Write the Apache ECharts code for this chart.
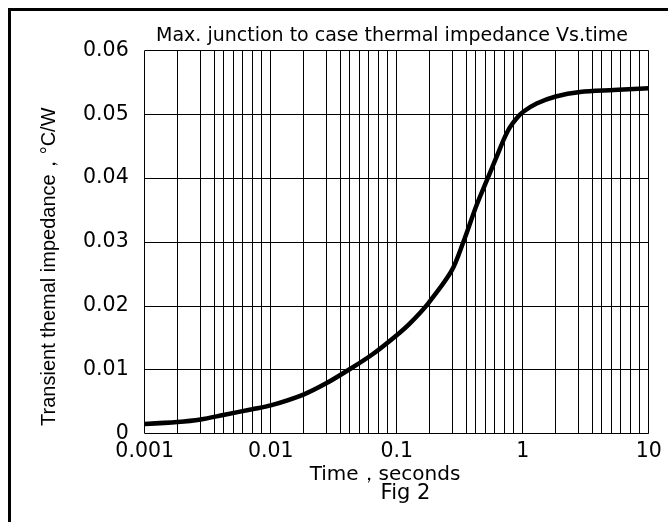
<!DOCTYPE html>
<html>
<head>
<meta charset="utf-8">
<script src="https://cdn.jsdelivr.net/npm/echarts@6/dist/echarts.min.js"></script>
<style>
html,body{margin:0;padding:0;background:#fff;}
#chart{width:668px;height:522px;}
</style>
</head>
<body>
<div id="chart"></div>
<script>
// ---- data ----
const titleText = 'Max. junction to case thermal impedance Vs.time';
const yName = 'Transient themal impedance，°C/W';
const xName = 'Time，seconds';
const figText = 'Fig 2';
const xTickLabels = ['0.001', '0.01', '0.1', '1', '10'];
const yTickLabels = ['0', '0.01', '0.02', '0.03', '0.04', '0.05', '0.06'];
const decades = [0.001, 0.01, 0.1, 1, 10];
const gridMultipliers = [1.8, 2.76, 3.56, 4.24, 5.05, 6.0, 7.11, 8.43];
const timeS = [0.001, 0.00182, 0.00278, 0.00421, 0.00711, 0.01, 0.0182, 0.0278, 0.0426, 0.0652, 0.1, 0.128, 0.178, 0.273, 0.338, 0.431, 0.518, 0.622, 0.724, 0.793, 0.896, 1.01, 1.29, 1.83, 2.85, 5.24, 10];
const zth   = [0.0015, 0.0018, 0.0022, 0.0029, 0.0038, 0.0044, 0.0061, 0.0079, 0.0101, 0.0125, 0.0154, 0.0173, 0.0204, 0.0255, 0.0300, 0.0358, 0.0396, 0.0434, 0.0465, 0.0480, 0.0494, 0.0504, 0.0517, 0.0528, 0.0535, 0.0538, 0.0541];

// vertical grid lines: each decade plus the (scanned) intermediate lines
const gridX = [];
decades.forEach((d, i) => {
  gridX.push(d);
  if (i < decades.length - 1) gridMultipliers.forEach(m => gridX.push(d * m));
});
const curve = timeS.map((t, i) => [t, zth[i]]);

const chart = echarts.init(document.getElementById('chart'), null, {renderer: 'canvas'});
const tickFont = {fontFamily: 'DejaVu Sans', fontSize: 20.5, color: '#000'};
chart.setOption({
  animation: false,
  backgroundColor: '#fff',
  title: {
    text: titleText, left: 387, top: 22, textAlign: 'center',
    textStyle: {fontFamily: 'DejaVu Sans', fontSize: 19, fontWeight: 'normal', color: '#000'}
  },
  grid: {left: 144.7, right: 19.3, top: 50.5, bottom: 88.5},
  xAxis: {
    type: 'log', logBase: 10, min: 0.001, max: 10,
    axisLine: {show: false}, axisTick: {show: false},
    splitLine: {show: false},
    minorSplitLine: {show: false},
    axisLabel: Object.assign({margin: 8, formatter: v => {
      const e = Math.log10(v);
      return Math.abs(e - Math.round(e)) < 1e-6 ? xTickLabels[Math.round(e) + 3] : '';
    }}, tickFont)
  },
  yAxis: {
    type: 'value', min: 0, max: 0.06, interval: 0.01,
    axisLine: {show: false}, axisTick: {show: false},
    splitLine: {show: true, lineStyle: {color: '#000', width: 1}},
    axisLabel: Object.assign({margin: 16, formatter: v => yTickLabels[Math.round(v / 0.01)]}, tickFont)
  },
  series: [
    {
      type: 'lines', coordinateSystem: 'cartesian2d', silent: true, z: 1,
      lineStyle: {color: '#000', width: 1, opacity: 1},
      data: gridX.map(v => ({coords: [[v, 0], [v, 0.06]]}))
    },
    {
      type: 'line', data: curve, z: 5, symbol: 'none', showSymbol: false,
      smooth: 0.3,
      lineStyle: {color: '#000', width: 4.5}
    }
  ],
  graphic: [
    {type: 'rect', silent: true, shape: {x: 9.5, y: 9.5, width: 800, height: 800},
     style: {fill: 'none', stroke: '#000', lineWidth: 3}},
    {type: 'text', x: 49, y: 266.7, rotation: Math.PI / 2,
     style: {text: yName, fontFamily: 'Liberation Sans', fontSize: 20, fill: '#000', align: 'center', verticalAlign: 'middle'}},
    {type: 'text', x: 385, y: 475,
     style: {text: xName, fontFamily: 'DejaVu Sans', fontSize: 20, fill: '#000', align: 'center', verticalAlign: 'middle'}},
    {type: 'text', x: 405.5, y: 494,
     style: {text: figText, fontFamily: 'DejaVu Sans', fontSize: 21, fill: '#000', align: 'center', verticalAlign: 'middle'}}
  ]
});
</script>
</body>
</html>
